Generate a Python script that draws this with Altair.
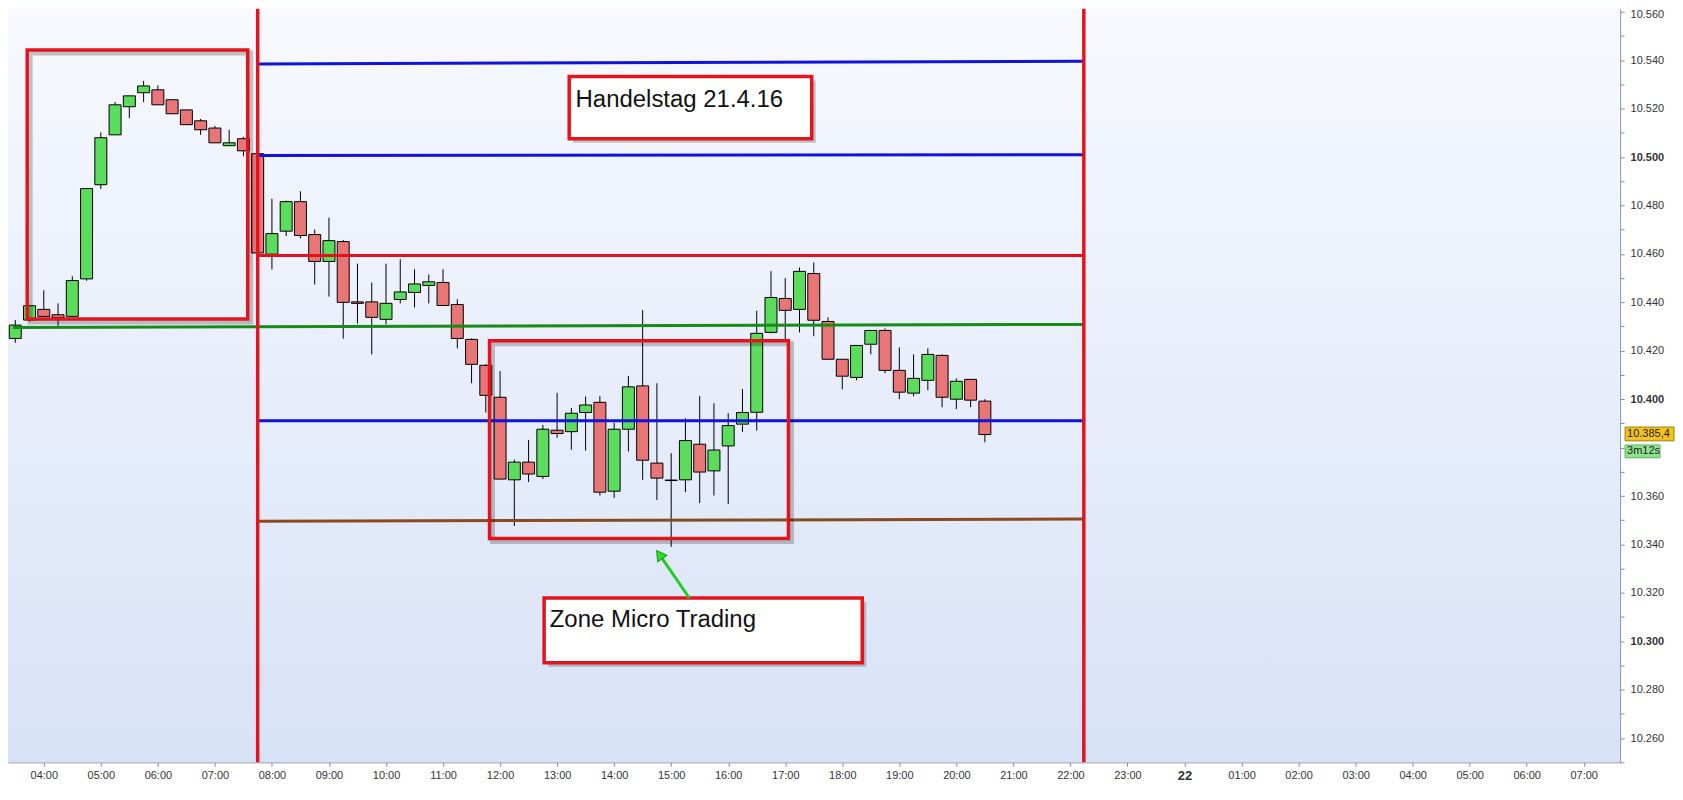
import altair as alt
import pandas as pd

# ---------------- candle data (15-minute candles, 21.4.16) ----------------
times = ["03:30", "03:45", "04:00", "04:15", "04:30", "04:45", "05:00", "05:15", "05:30", "05:45",
         "06:00", "06:15", "06:30", "06:45", "07:00", "07:15", "07:30", "07:45", "08:00", "08:15",
         "08:30", "08:45", "09:00", "09:15", "09:30", "09:45", "10:00", "10:15", "10:30", "10:45",
         "11:00", "11:15", "11:30", "11:45", "12:00", "12:15", "12:30", "12:45", "13:00", "13:15",
         "13:30", "13:45", "14:00", "14:15", "14:30", "14:45", "15:00", "15:15", "15:30", "15:45",
         "16:00", "16:15", "16:30", "16:45", "17:00", "17:15", "17:30", "17:45", "18:00", "18:15",
         "18:30", "18:45", "19:00", "19:15", "19:30", "19:45", "20:00", "20:15", "20:30"]
opens = [10.4251, 10.4327, 10.4371, 10.4349, 10.4342, 10.4497, 10.4886, 10.5092, 10.5208, 10.5266,
         10.5278, 10.5237, 10.5195, 10.5150, 10.5120, 10.5047, 10.5076, 10.5014, 10.4599, 10.4694,
         10.4816, 10.4680, 10.4569, 10.4651, 10.4402, 10.4402, 10.4330, 10.4412, 10.4441, 10.4470,
         10.4482, 10.4391, 10.4247, 10.4140, 10.4008, 10.3667, 10.3740, 10.3681, 10.3872, 10.3866,
         10.3945, 10.3987, 10.3620, 10.3876, 10.4055, 10.3736, 10.3666, 10.3667, 10.3814, 10.3704,
         10.3807, 10.3897, 10.3946, 10.4276, 10.4416, 10.4371, 10.4519, 10.4321, 10.4165, 10.4090,
         10.4227, 10.4284, 10.4119, 10.4025, 10.4078, 10.4181, 10.4000, 10.4082, 10.3992]
highs = [10.4327, 10.4386, 10.4450, 10.4396, 10.4508, 10.4870, 10.5102, 10.5228, 10.5253, 10.5315,
         10.5296, 10.5237, 10.5195, 10.5158, 10.5129, 10.5113, 10.5084, 10.5014, 10.4828, 10.4820,
         10.4859, 10.4701, 10.4750, 10.4658, 10.4560, 10.4482, 10.4560, 10.4578, 10.4537, 10.4515,
         10.4537, 10.4413, 10.4251, 10.4145, 10.4116, 10.3750, 10.3832, 10.3894, 10.4026, 10.3964,
         10.4011, 10.4013, 10.3903, 10.4096, 10.4368, 10.4066, 10.3777, 10.3921, 10.4013, 10.3983,
         10.3942, 10.4042, 10.4365, 10.4529, 10.4500, 10.4544, 10.4565, 10.4338, 10.4165, 10.4222,
         10.4284, 10.4292, 10.4214, 10.4185, 10.4210, 10.4185, 10.4086, 10.4082, 10.4000]
lows = [10.4233, 10.4320, 10.4342, 10.4303, 10.4342, 10.4489, 10.4868, 10.5092, 10.5161, 10.5227,
        10.5216, 10.5179, 10.5134, 10.5092, 10.5059, 10.5047, 10.5003, 10.4604, 10.4536, 10.4674,
        10.4664, 10.4474, 10.4424, 10.4250, 10.4313, 10.4185, 10.4309, 10.4396, 10.4379, 10.4396,
        10.4387, 10.4210, 10.4066, 10.3945, 10.3670, 10.3476, 10.3658, 10.3670, 10.3841, 10.3791,
        10.3788, 10.3602, 10.3592, 10.3784, 10.3667, 10.3584, 10.3390, 10.3616, 10.3571, 10.3602,
        10.3567, 10.3865, 10.3870, 10.4272, 10.4244, 10.4276, 10.4260, 10.4163, 10.4041, 10.4078,
        10.4185, 10.4107, 10.4000, 10.4012, 10.4037, 10.3967, 10.3959, 10.3967, 10.3822]
closes = [10.4306, 10.4386, 10.4342, 10.4338, 10.4490, 10.4870, 10.5080, 10.5216, 10.5253, 10.5294,
          10.5216, 10.5179, 10.5134, 10.5113, 10.5059, 10.5059, 10.5026, 10.4604, 10.4684, 10.4816,
          10.4676, 10.4569, 10.4655, 10.4400, 10.4396, 10.4338, 10.4396, 10.4443, 10.4476, 10.4485,
          10.4387, 10.4251, 10.4144, 10.4016, 10.3670, 10.3740, 10.3691, 10.3876, 10.3858, 10.3942,
          10.3976, 10.3616, 10.3876, 10.4051, 10.3748, 10.3674, 10.3664, 10.3829, 10.3699, 10.3790,
          10.3891, 10.3945, 10.4272, 10.4420, 10.4367, 10.4528, 10.4326, 10.4165, 10.4095, 10.4222,
          10.4284, 10.4119, 10.4029, 10.4086, 10.4185, 10.4008, 10.4074, 10.3996, 10.3854]

# ---------------- drawn levels / annotations ----------------
level_t0 = [7.75, 7.75, 7.75, 3.46, 7.75, 7.75]
level_t1 = [22.235, 22.235, 22.235, 22.235, 22.235, 22.235]
level_v0 = [10.5385, 10.5007, 10.4594, 10.4296, 10.3911, 10.3496]
level_v1 = [10.5396, 10.5010, 10.4594, 10.4309, 10.3911, 10.3505]
level_colors = ["#1212DE", "#1212DE", "#E3121A", "#178A17", "#1212DE", "#8A4A1E"]

session_lines = [7.75, 22.235]

box_t0 = [3.709, 11.815]
box_t1 = [7.576, 17.056]
box_v0 = [10.5442, 10.4241]
box_v1 = [10.4331, 10.3425]

note_texts = ["Handelstag 21.4.16", "Zone Micro Trading"]
note_t0 = [13.212, 12.772]
note_t1 = [17.464, 18.350]
note_v0 = [10.5333, 10.3179]
note_v1 = [10.5076, 10.2911]
note_text_t = [13.323, 12.871]
note_text_v = [10.5209, 10.3060]

arrow_tail = [15.306, 10.3183]
arrow_head = [14.795, 10.3358]

price_label = "10.385,4"
timer_label = "3m12s"
price_box = [10.3885, 10.3828]
timer_box = [10.3811, 10.3758]

x_tick_hours = list(range(4, 32))
y_tick_values = [10.25, 10.26, 10.27, 10.28, 10.29, 10.30, 10.31, 10.32, 10.33, 10.34, 10.35,
                 10.36, 10.37, 10.38, 10.39, 10.40, 10.41, 10.42, 10.43, 10.44, 10.45, 10.46,
                 10.47, 10.48, 10.49, 10.50, 10.51, 10.52, 10.53, 10.54, 10.55, 10.56]

GREEN = "#5CDC5C"
RED = "#E87676"
BOXRED = "#E3141B"
FONT = "Liberation Sans"
W, H = 1615, 755


def hours(s):
    h, m = s.split(":")
    return int(h) + int(m) / 60.0


candles = pd.DataFrame({
    "t": [hours(s) for s in times],
    "open": opens, "high": highs, "low": lows, "close": closes,
})
candles["dir"] = ["up" if c >= o else "down" for o, c in zip(opens, closes)]

levels = pd.DataFrame({"t0": level_t0, "t1": level_t1, "v0": level_v0, "v1": level_v1,
                       "color": level_colors})
vlines = pd.DataFrame({"t": session_lines})
boxes = pd.DataFrame({"t0": box_t0, "t1": box_t1, "v0": box_v0, "v1": box_v1})
notes = pd.DataFrame({"t0": note_t0, "t1": note_t1, "v0": note_v0, "v1": note_v1,
                      "tt": note_text_t, "tv": note_text_v, "text": note_texts})
arrow = pd.DataFrame({"t0": [arrow_tail[0]], "v0": [arrow_tail[1]],
                      "t1": [arrow_head[0]], "v1": [arrow_head[1]]})
labels = pd.DataFrame({"text": [price_label, timer_label],
                       "v0": [price_box[0], timer_box[0]],
                       "v1": [price_box[1], timer_box[1]],
                       "vm": [(price_box[0] + price_box[1]) / 2, (timer_box[0] + timer_box[1]) / 2],
                       "fill": ["#F2C31C", "#8EE48E"],
                       "stroke": ["#A07E00", "#5FB05F"]})

xscale = alt.Scale(domain=[3.46, 31.55], nice=False, zero=False)
yscale = alt.Scale(domain=[10.25, 10.5613], nice=False, zero=False)

xaxis = alt.Axis(
    values=x_tick_hours,
    labelExpr="datum.value == 24 ? '22' : (((datum.value % 24) < 10) ? '0' : '') + (datum.value % 24) + ':00'",
    title=None, grid=False, domainColor="#7f8fa6", tickColor="#7f8fa6", tickSize=4,
    labelFontSize={"condition": {"test": "datum.value == 24", "value": 13}, "value": 11},
    labelFontWeight={"condition": {"test": "datum.value == 24", "value": "bold"}, "value": "normal"},
    labelColor="#333333", labelFont=FONT, labelPadding=3, labelFlush=False, labelOverlap=False,
)
yaxis = alt.Axis(
    orient="right", values=y_tick_values,
    labelExpr="(round(datum.value * 100) % 2 == 0 && round(datum.value * 100) != 1038) ? format(datum.value, '.3f') : ''",
    title=None, grid=False, domainColor="#7f8fa6", tickColor="#7f8fa6", tickSize=4,
    labelFontSize=11,
    labelFontWeight={"condition": {"test": "round(datum.value * 100) % 10 == 0", "value": "bold"},
                     "value": "normal"},
    labelOffset={"condition": {"test": "round(datum.value * 100) == 1056", "value": 3}, "value": 0},
    labelColor="#333333", labelFont=FONT, labelPadding=6, labelOverlap=False, labelFlush=False,
)


def X(f):
    return alt.X(f, type="quantitative", scale=xscale, axis=xaxis)


def Y(f):
    return alt.Y(f, type="quantitative", scale=yscale, axis=yaxis)


gradient = alt.LinearGradient(
    gradient="linear",
    stops=[alt.GradientStop(color="#F7F9FE", offset=0), alt.GradientStop(color="#D8E2F7", offset=1)],
    x1=0, x2=0, y1=0, y2=1,
)
bg = alt.Chart(pd.DataFrame({"a": [0]})).mark_rect(fill=gradient).encode(
    x=alt.value(0), x2=alt.value(W), y=alt.value(0), y2=alt.value(H)
)

base = alt.Chart(candles)
wicks = base.mark_rule(color="black", strokeWidth=1).encode(x=X("t"), y=Y("low"), y2="high")
bodies = base.mark_bar(width=12, stroke="black", strokeWidth=1).encode(
    x=X("t"), y=Y("open"), y2="close",
    color=alt.Color("dir:N", scale=alt.Scale(domain=["up", "down"], range=[GREEN, RED]), legend=None),
)

level_lines = alt.Chart(levels).mark_rule(strokeWidth=3).encode(
    x=X("t0"), x2="t1", y=Y("v0"), y2="v1", color=alt.Color("color:N", scale=None)
)
session = alt.Chart(vlines).mark_rule(strokeWidth=3.5, color=BOXRED).encode(x=X("t"))

box_shadow = alt.Chart(boxes).mark_rect(
    fillOpacity=0, stroke="#000000", strokeOpacity=0.22, strokeWidth=5,
    xOffset=3, x2Offset=3, yOffset=3, y2Offset=3,
).encode(x=X("t0"), x2="t1", y=Y("v0"), y2="v1")
box_frame = alt.Chart(boxes).mark_rect(fillOpacity=0, stroke=BOXRED, strokeWidth=3.5).encode(
    x=X("t0"), x2="t1", y=Y("v0"), y2="v1"
)

note_shadow = alt.Chart(notes).mark_rect(
    color="#000000", opacity=0.22, xOffset=4, x2Offset=4, yOffset=4, y2Offset=4
).encode(x=X("t0"), x2="t1", y=Y("v0"), y2="v1")
note_box = alt.Chart(notes).mark_rect(fill="#FFFFFF", stroke=BOXRED, strokeWidth=3.5).encode(
    x=X("t0"), x2="t1", y=Y("v0"), y2="v1"
)
note_text = alt.Chart(notes).mark_text(
    align="left", baseline="alphabetic", fontSize=24, font=FONT, color="#111111"
).encode(x=X("tt"), y=Y("tv"), text="text:N")

arrow_line = alt.Chart(arrow).mark_rule(strokeWidth=3, color="#22CC22", strokeCap="round").encode(
    x=X("t0"), x2="t1", y=Y("v0"), y2="v1"
)
arrow_tip = alt.Chart(arrow).mark_point(
    shape="triangle-up", filled=True, size=130, angle=325, fill="#2BDD2B",
    stroke="#139913", strokeWidth=1, opacity=1,
).encode(x=X("t1"), y=Y("v1"))

price_box_mark = alt.Chart(labels).transform_filter(
    alt.datum.text == price_label
).mark_rect(strokeWidth=1).encode(
    x=alt.value(W + 5), x2=alt.value(W + 54), y=Y("v0"), y2="v1",
    fill=alt.Fill("fill:N", scale=None), stroke=alt.Stroke("stroke:N", scale=None),
)
timer_box_mark = alt.Chart(labels).transform_filter(
    alt.datum.text == timer_label
).mark_rect(strokeWidth=1).encode(
    x=alt.value(W + 5), x2=alt.value(W + 40), y=Y("v0"), y2="v1",
    fill=alt.Fill("fill:N", scale=None), stroke=alt.Stroke("stroke:N", scale=None),
)
label_text = alt.Chart(labels).mark_text(
    align="left", baseline="middle", fontSize=11, font=FONT, color="#222222"
).encode(x=alt.value(W + 7), y=Y("vm"), text="text:N")

chart = alt.layer(
    bg, wicks, bodies, level_lines, session, box_shadow, box_frame,
    note_shadow, note_box, note_text, arrow_line, arrow_tip,
    price_box_mark, timer_box_mark, label_text,
).properties(
    width=W, height=H,
    autosize=alt.AutoSizeParams(type="none"),
    padding={"left": 0, "top": 0, "right": 55, "bottom": 24},
    background="#FFFFFF",
).configure_view(strokeWidth=0)

chart.save("out.html", embed_options={"renderer": "svg", "actions": False})
